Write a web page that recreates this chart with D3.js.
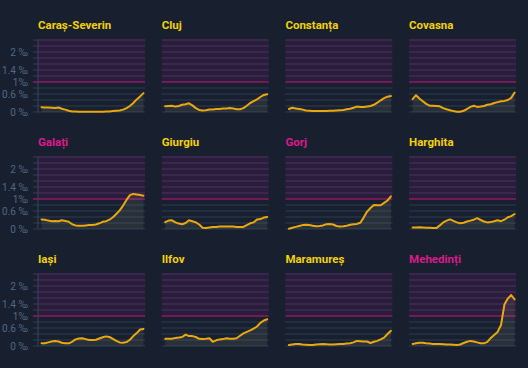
<!DOCTYPE html>
<html>
<head>
<meta charset="utf-8">
<script src="https://cdn.jsdelivr.net/npm/d3@7"></script>
<style>
  body { margin: 0; background: #18202f; }
  svg { display: block; }
  text { font-family: Roboto, "Noto Sans", sans-serif; }
</style>
</head>
<body>
<div id="chart"></div>
<script>
// incidence per 1000 inhabitants, 31 samples per county
const counties = ['Caraș-Severin', 'Cluj', 'Constanța', 'Covasna', 'Galați', 'Giurgiu', 'Gorj', 'Harghita', 'Iași', 'Ilfov', 'Maramureș', 'Mehedinți']

const carasSeverin = [0.16, 0.15, 0.15, 0.14, 0.13, 0.15, 0.11, 0.08, 0.04, 0.02, 0.02, 0.01, 0.01, 0.01, 0.01, 0.01, 0.01, 0.01, 0.01, 0.02, 0.02, 0.03, 0.04, 0.05, 0.08, 0.13, 0.2, 0.3, 0.42, 0.52, 0.63]
const cluj = [0.19, 0.2, 0.21, 0.18, 0.2, 0.24, 0.26, 0.29, 0.22, 0.13, 0.07, 0.05, 0.06, 0.08, 0.08, 0.1, 0.1, 0.12, 0.12, 0.13, 0.12, 0.09, 0.09, 0.13, 0.21, 0.3, 0.36, 0.42, 0.5, 0.57, 0.59]
const constanta = [0.1, 0.14, 0.12, 0.1, 0.08, 0.05, 0.04, 0.03, 0.03, 0.03, 0.03, 0.03, 0.04, 0.04, 0.05, 0.06, 0.07, 0.09, 0.11, 0.14, 0.18, 0.17, 0.17, 0.18, 0.2, 0.24, 0.31, 0.39, 0.46, 0.51, 0.53]
const covasna = [0.43, 0.56, 0.45, 0.36, 0.27, 0.21, 0.21, 0.2, 0.19, 0.13, 0.09, 0.06, 0.03, 0.01, 0.01, 0.04, 0.1, 0.17, 0.21, 0.17, 0.18, 0.2, 0.24, 0.26, 0.3, 0.33, 0.36, 0.37, 0.4, 0.47, 0.65]
const galati = [0.32, 0.31, 0.28, 0.26, 0.27, 0.26, 0.29, 0.27, 0.24, 0.16, 0.12, 0.11, 0.11, 0.12, 0.13, 0.13, 0.15, 0.19, 0.24, 0.26, 0.31, 0.39, 0.5, 0.62, 0.78, 0.97, 1.13, 1.17, 1.15, 1.13, 1.11]
const giurgiu = [0.23, 0.28, 0.29, 0.22, 0.18, 0.16, 0.2, 0.29, 0.26, 0.22, 0.15, 0.04, 0.03, 0.05, 0.07, 0.07, 0.08, 0.08, 0.08, 0.08, 0.08, 0.07, 0.07, 0.07, 0.13, 0.19, 0.22, 0.32, 0.33, 0.38, 0.4]
const gorj = [0.01, 0.04, 0.07, 0.1, 0.13, 0.14, 0.13, 0.11, 0.09, 0.1, 0.12, 0.16, 0.17, 0.15, 0.1, 0.08, 0.09, 0.11, 0.14, 0.16, 0.17, 0.21, 0.38, 0.58, 0.7, 0.8, 0.79, 0.79, 0.87, 0.95, 1.09]
const harghita = [0.05, 0.05, 0.06, 0.05, 0.04, 0.04, 0.03, 0.03, 0.12, 0.22, 0.28, 0.32, 0.27, 0.22, 0.19, 0.21, 0.25, 0.28, 0.31, 0.36, 0.3, 0.25, 0.22, 0.23, 0.26, 0.29, 0.26, 0.31, 0.39, 0.43, 0.5]
const iasi = [0.09, 0.09, 0.12, 0.15, 0.17, 0.15, 0.11, 0.09, 0.09, 0.14, 0.22, 0.25, 0.26, 0.23, 0.2, 0.2, 0.21, 0.25, 0.29, 0.32, 0.3, 0.24, 0.17, 0.12, 0.11, 0.13, 0.21, 0.33, 0.43, 0.55, 0.57]
const ilfov = [0.24, 0.24, 0.24, 0.27, 0.28, 0.3, 0.38, 0.33, 0.33, 0.3, 0.24, 0.23, 0.24, 0.26, 0.14, 0.19, 0.22, 0.23, 0.26, 0.24, 0.24, 0.26, 0.34, 0.42, 0.47, 0.52, 0.58, 0.65, 0.77, 0.85, 0.89]
const maramures = [0.03, 0.05, 0.07, 0.07, 0.05, 0.04, 0.03, 0.03, 0.05, 0.06, 0.07, 0.06, 0.05, 0.05, 0.06, 0.07, 0.07, 0.08, 0.09, 0.12, 0.17, 0.16, 0.15, 0.15, 0.1, 0.14, 0.17, 0.22, 0.28, 0.4, 0.51]
const mehedinti = [0.07, 0.09, 0.11, 0.11, 0.09, 0.08, 0.07, 0.07, 0.07, 0.06, 0.05, 0.05, 0.04, 0.03, 0.05, 0.1, 0.14, 0.17, 0.15, 0.12, 0.09, 0.09, 0.14, 0.27, 0.37, 0.47, 0.7, 1.38, 1.58, 1.7, 1.55]

const series = [carasSeverin, cluj, constanta, covasna, galati, giurgiu, gorj, harghita, iasi, ilfov, maramures, mehedinti]

const gridValues = d3.range(0, 13).map(i => +(i * 0.2).toFixed(1))
const tickValues = [0, 0.6, 1, 1.4, 2]
const tickLabels = ['0 ‰', '0.6 ‰', '1‰', '1.4 ‰', '2 ‰']
const threshold = 1

const width = 528
const height = 368
const panelW = 107
const panelH = 72
const colStep = 123.7
const rowStep = 117
const margin = { top: 40, left: 38 }

const svg = d3.select('#chart')
  .append('svg')
  .attr('width', width)
  .attr('height', height)

const x = d3.scaleLinear().domain([0, 30]).range([3.5, panelW - 1.5])
const y = d3.scaleLinear().domain([0, 2.4]).range([panelH, 0])

const area = d3.area()
  .x((d, i) => x(i))
  .y0(y(0))
  .y1(d => y(d))

const line = d3.line()
  .x((d, i) => x(i))
  .y(d => y(d))

const gridColor = v => v === threshold ? '#c3167f' : v > threshold ? '#48335f' : '#2b3d55'

counties.forEach((name, idx) => {
  const col = idx % 4
  const row = Math.floor(idx / 4)
  const values = series[idx]
  const g = svg.append('g')
    .attr('transform', `translate(${margin.left + col * colStep}, ${margin.top + row * rowStep})`)

  // band above the threshold
  g.append('rect')
    .attr('x', 0)
    .attr('y', y(2.4) - 1)
    .attr('width', panelW)
    .attr('height', y(threshold) - y(2.4) + 1)
    .attr('fill', '#2a1d3b')

  g.selectAll('line.grid')
    .data(gridValues)
    .enter()
    .append('line')
    .attr('class', 'grid')
    .attr('x1', col === 0 ? -5 : 0)
    .attr('x2', panelW)
    .attr('y1', d => y(d))
    .attr('y2', d => y(d))
    .attr('stroke', d => gridColor(d))
    .attr('stroke-width', 1)

  if (col === 0) {
    g.append('line')
      .attr('x1', 0).attr('x2', 0)
      .attr('y1', y(2.4)).attr('y2', y(0))
      .attr('stroke', '#34465e')

    const yAxis = d3.axisLeft(y)
      .tickValues(tickValues)
      .tickSize(0)
      .tickPadding(10)
      .tickFormat((d, i) => tickLabels[i])
    const ax = g.append('g').call(yAxis)
    ax.select('.domain').remove()
    ax.selectAll('text')
      .attr('fill', '#4f6886')
      .style('font-size', '10px')
      .style('font-family', 'Roboto, sans-serif')
  }

  g.append('path')
    .datum(values)
    .attr('fill', 'rgba(150, 150, 130, 0.14)')
    .attr('d', area)

  g.append('path')
    .datum(values)
    .attr('fill', 'none')
    .attr('stroke', '#eaa70e')
    .attr('stroke-width', 2)
    .attr('stroke-linejoin', 'round')
    .attr('stroke-linecap', 'round')
    .attr('d', line)

  g.append('text')
    .attr('x', 0)
    .attr('y', -11)
    .attr('fill', d3.max(values) > threshold ? '#dc198b' : '#f3d10a')
    .style('font-size', '11.5px')
    .style('font-weight', 700)
    .text(name)
})
</script>
</body>
</html>
